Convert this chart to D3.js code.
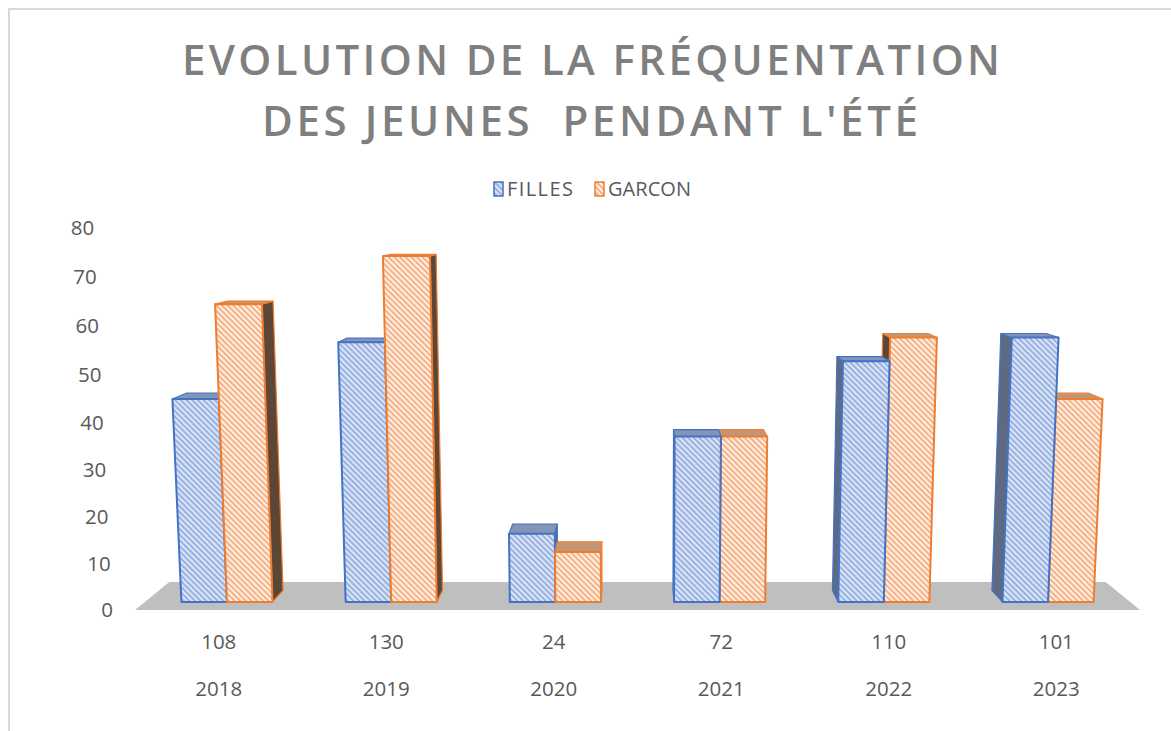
<!DOCTYPE html>
<html>
<head>
<meta charset="utf-8">
<script src="https://cdn.jsdelivr.net/npm/d3@7"></script>
<style>
  body { margin: 0; background: #fff; }
  svg { display: block; font-family: "Open Sans", sans-serif; }
  text { white-space: pre; }
</style>
</head>
<body>
<svg id="chart" width="1171" height="731"></svg>
<script>
// data
const years = ['2018', '2019', '2020', '2021', '2022', '2023'];
const totals = ['108', '130', '24', '72', '110', '101'];
const seriesNames = ['FILLES', 'GARCON'];
const filles = [44, 56, 15, 36, 52, 57];
const garcon = [64, 74, 11, 36, 57, 44];
const yTicks = [0, 10, 20, 30, 40, 50, 60, 70, 80];
const titleLines = ['EVOLUTION DE LA FRÉQUENTATION', "DES JEUNES  PENDANT L'ÉTÉ"];

const colors = {
  FILLES: { line: '#4472c4', bg: '#dce5f6', stripe: '#9ab2e2', top: '#8494b6', side: '#5e6a80' },
  GARCON: { line: '#ed7d31', bg: '#ffefe4', stripe: '#f6b287', top: '#c49676', side: '#5b4638' }
};

const svg = d3.select('#chart');

// simple pinhole camera looking down a little
const cam = (() => {
  const theta = Math.atan(0.2);
  const s = Math.sin(theta), c = Math.cos(theta);
  const H = 402;
  const D = H / Math.tan(theta);
  return { cx: 637.5, py: 610, H, D, s, c, F: H * s + D * c };
})();

function project(X, Y, Z) {
  const a = Y - cam.H, b = Z + cam.D;
  const d = -a * cam.s + b * cam.c;
  const v = a * cam.c + b * cam.s;
  return [cam.cx + cam.F * (X - cam.cx) / d, cam.py - cam.F * v / d];
}
const poly = pts => 'M' + pts.map(p => project(p[0], p[1], p[2]).join(',')).join('L') + 'Z';

// scales in world units
const x0 = d3.scaleBand().domain(years).range([135, 1140]);
const groupW = x0.bandwidth() * 0.555;
const x1 = d3.scaleBand().domain(seriesNames)
  .range([(x0.bandwidth() - groupW) / 2, (x0.bandwidth() + groupW) / 2]);
const y = d3.scaleLinear().domain([0, 80]).range([0, 376]);
const floorDepth = [0, 153];
const barDepth = [42, 105];

// hatch patterns
const defs = svg.append('defs');
seriesNames.forEach(name => {
  const pat = defs.append('pattern')
    .attr('id', 'hatch-' + name)
    .attr('patternUnits', 'userSpaceOnUse')
    .attr('width', 4).attr('height', 4)
    .attr('patternTransform', 'rotate(-45)');
  pat.append('rect').attr('width', 4).attr('height', 4).attr('fill', colors[name].bg);
  pat.append('rect').attr('width', 2).attr('height', 4).attr('fill', colors[name].stripe);
});

// chart frame
svg.append('path')
  .attr('d', 'M9,731V9H1171')
  .attr('fill', 'none')
  .attr('stroke', '#d9d9d9')
  .attr('stroke-width', 2);

// title
const titleX = [182, 262];
const titleW = [818, 656];
svg.selectAll('.title')
  .data(titleLines)
  .enter()
  .append('text')
  .attr('class', 'title')
  .attr('x', (d, i) => titleX[i])
  .attr('y', (d, i) => 75 + i * 61)
  .attr('textLength', (d, i) => titleW[i])
  .attr('lengthAdjust', 'spacing')
  .attr('font-size', 42)
  .attr('font-weight', 600)
  .attr('fill', '#7f7f7f')
  .text(d => d);

// legend
const legend = svg.append('g');
const legendX = [494, 595];
const legendTextW = [66, 83];
seriesNames.forEach((name, i) => {
  legend.append('rect')
    .attr('x', legendX[i]).attr('y', 182)
    .attr('width', 9).attr('height', 14)
    .attr('fill', `url(#hatch-${name})`)
    .attr('stroke', colors[name].line)
    .attr('stroke-width', 1.5);
  legend.append('text')
    .attr('x', legendX[i] + 13).attr('y', 196)
    .attr('textLength', legendTextW[i])
    .attr('lengthAdjust', 'spacing')
    .attr('font-size', 20)
    .attr('fill', '#595959')
    .text(name);
});

// floor
const [fx0, fx1] = x0.range();
svg.append('path')
  .attr('d', poly([[fx0, 0, floorDepth[0]], [fx1, 0, floorDepth[0]], [fx1, 0, floorDepth[1]], [fx0, 0, floorDepth[1]]]))
  .attr('fill', '#bfbfbf');

// y axis labels
svg.append('g')
  .selectAll('text')
  .data(yTicks)
  .enter()
  .append('text')
  .attr('x', d => project(fx0, y(d), 0)[0] - 22)
  .attr('y', d => project(fx0, y(d), 0)[1])
  .attr('dy', '0.36em')
  .attr('text-anchor', 'end')
  .attr('font-size', 20.5)
  .attr('fill', '#595959')
  .text(d => d);

// category labels (two rows)
const catX = d => project(x0(d) + x0.bandwidth() / 2, 0, 0)[0];
svg.append('g')
  .selectAll('text')
  .data(years)
  .enter()
  .append('text')
  .attr('x', catX)
  .attr('y', 649)
  .attr('text-anchor', 'middle')
  .attr('font-size', 20.5)
  .attr('fill', '#595959')
  .text((d, i) => totals[i]);

svg.append('g')
  .selectAll('text')
  .data(years)
  .enter()
  .append('text')
  .attr('x', catX)
  .attr('y', 696)
  .attr('text-anchor', 'middle')
  .attr('font-size', 20.5)
  .attr('fill', '#595959')
  .text(d => d);

// bars
const bars = [];
years.forEach((yr, i) => {
  [filles[i], garcon[i]].forEach((v, j) => {
    const name = seriesNames[j];
    const xa = x0(yr) + x1(name);
    bars.push({ name, xa, xb: xa + x1.bandwidth(), h: y(v) });
  });
});
// paint the bars furthest from the centre first
bars.sort((a, b) => Math.abs((b.xa + b.xb) / 2 - cam.cx) - Math.abs((a.xa + a.xb) / 2 - cam.cx));

const [z0, z1] = barDepth;
const barG = svg.append('g');
bars.forEach(b => {
  const c = colors[b.name];
  const g = barG.append('g')
    .attr('stroke', c.line)
    .attr('stroke-linejoin', 'round');
  let sx = null;
  if (b.xb < cam.cx) sx = b.xb;
  else if (b.xa > cam.cx) sx = b.xa;
  if (sx !== null) {
    g.append('path')
      .attr('d', poly([[sx, 0, z0], [sx, 0, z1], [sx, b.h, z1], [sx, b.h, z0]]))
      .attr('fill', c.side)
      .attr('stroke-width', 1.2);
  }
  g.append('path')
    .attr('d', poly([[b.xa, b.h, z0], [b.xb, b.h, z0], [b.xb, b.h, z1], [b.xa, b.h, z1]]))
    .attr('fill', c.top)
    .attr('stroke-width', 1.2);
  g.append('path')
    .attr('d', poly([[b.xa, 0, z0], [b.xb, 0, z0], [b.xb, b.h, z0], [b.xa, b.h, z0]]))
    .attr('fill', `url(#hatch-${b.name})`)
    .attr('stroke-width', 2);
});
</script>
</body>
</html>
